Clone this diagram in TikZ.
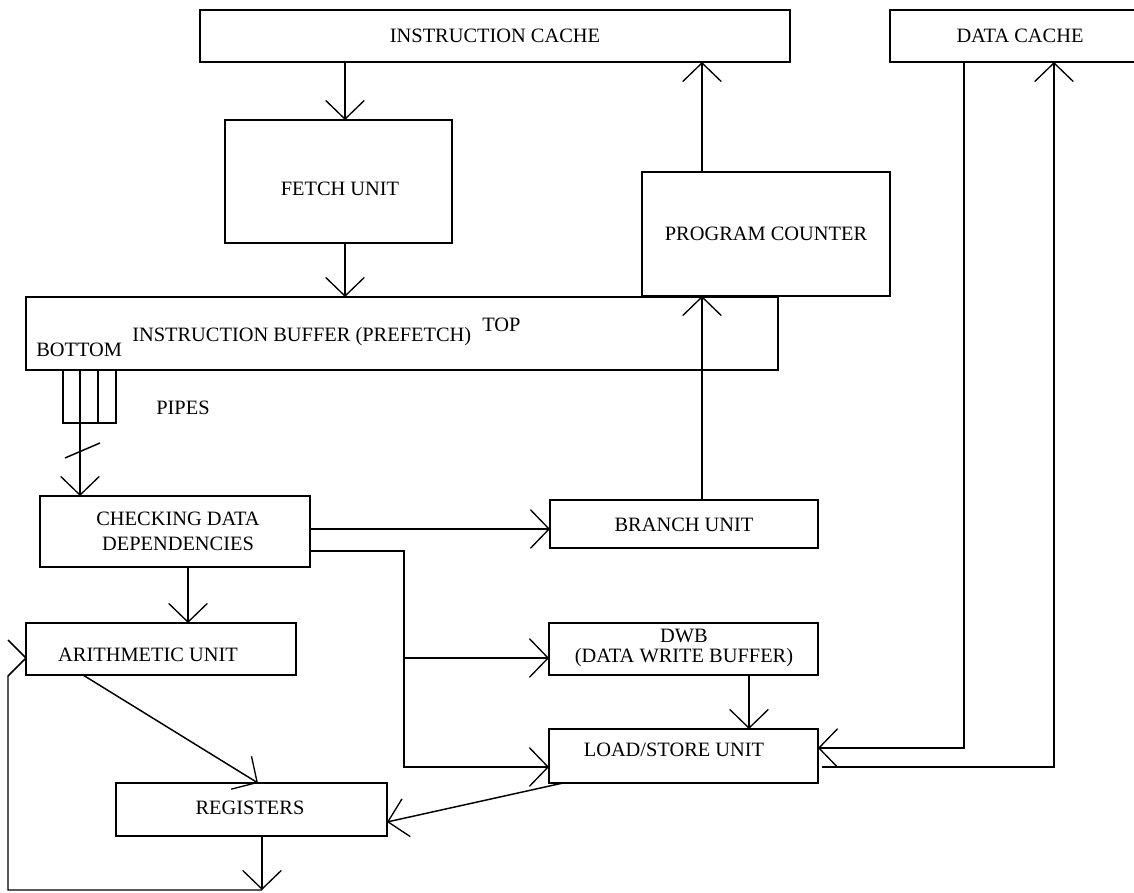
\documentclass[tikz,border=0pt]{standalone}
\usepackage{fontspec}
\setmainfont{Liberation Serif}
\usetikzlibrary{arrows.meta}
\begin{document}
\begin{tikzpicture}[x=0.75pt,y=-0.75pt,
  box/.style={draw, line width=1.1pt, inner sep=0pt, outer sep=0pt, anchor=north west},
  lbl/.style={font=\fontsize{15.3}{18.7}\selectfont, inner sep=0pt, align=center},
  conn/.style={line width=1.1pt},
  arr/.style={conn, -{Straight Barb[length=14pt,width=29pt,line width=1pt]}},
]
\useasboundingbox (0,0) rectangle (1134,892);
\fill[white] (0,0) rectangle (1134,892);

% boxes
\node[box, minimum width=442.5pt, minimum height=39pt] (ic) at (200,10) {};
\node[box, minimum width=202.5pt, minimum height=39pt] (dc) at (890,10) {};
\node[box, minimum width=170.25pt, minimum height=92.25pt] (fetch) at (225,120) {};
\node[box, minimum width=186pt, minimum height=93pt] (pc) at (642,172) {};
\node[box, minimum width=564pt, minimum height=54.75pt] (ib) at (26,297) {};
\node[box, minimum width=39.75pt, minimum height=39.75pt] (pipes) at (63,370) {};
\node[box, minimum width=202.5pt, minimum height=53.25pt] (cdd) at (40,496) {};
\node[box, minimum width=201pt, minimum height=36pt] (branch) at (550,500) {};
\node[box, minimum width=202.5pt, minimum height=39pt] (arith) at (26,623) {};
\node[box, minimum width=201.75pt, minimum height=39pt] (dwb) at (549,623) {};
\node[box, minimum width=201.75pt, minimum height=40.5pt] (lsu) at (549,729) {};
\node[box, minimum width=203.25pt, minimum height=39.75pt] (regs) at (116,783) {};

% pipe cells
\draw[conn] (80,370) -- (80,423);
\draw[line width=2.2pt] (98,370) -- (98,423);

% labels
\node[lbl] (tic) at (ic.center) {INSTRUCTION CACHE};
\node[lbl] (tdc) at (1020,36) {DATA CACHE};
\node[lbl] (tfetch) at (340,189) {FETCH UNIT};
\node[lbl] (tpc) at (pc.center) {PROGRAM COUNTER};
\node[lbl, anchor=west] (tib) at (132,337) {INSTRUCTION BUFFER (PREFETCH)};
\node[lbl, anchor=west] (ttop) at (482,325) {TOP};
\node[lbl, anchor=west] (tbot) at (36,350) {BOTTOM};
\node[lbl] (tpipes) at (183,408) {PIPES};
\node[lbl] (tcdd) at (178,531) {CHECKING DATA\\DEPENDENCIES};
\node[lbl] (tbranch) at (684,525) {BRANCH UNIT};
\node[lbl] (tarith) at (148,655) {ARITHMETIC UNIT};
\node[lbl, font=\fontsize{15.3}{15}\selectfont] (tdwb) at (684,648) {DWB\\(DATA WRITE BUFFER)};
\node[lbl] (tlsu) at (674,750) {LOAD/STORE UNIT};
\node[lbl] (tregs) at (250,808) {REGISTERS};

% helper coordinates
\coordinate (xA) at (345,0);
\coordinate (xB) at (702,0);
\coordinate (xP) at (80,0);
\coordinate (yBr) at (0,529);
\coordinate (yD) at (0,551);
\coordinate (xJ) at (404,0);
\coordinate (yL) at (0,767);
\coordinate (yW) at (0,658);
\coordinate (xAr) at (188,0);
\coordinate (xS) at (83,0);
\coordinate (xT) at (258,0);
\coordinate (xLs) at (563,0);
\coordinate (yRg) at (0,822);
\coordinate (xDw) at (749,0);
\coordinate (xDc) at (964,0);
\coordinate (yIn) at (0,748);
\coordinate (xOut) at (1054,0);
\coordinate (xR) at (262,0);
\coordinate (yBot) at (0,890);
\coordinate (xL) at (8,0);
\coordinate (yUp) at (0,676);
\coordinate (yBarb) at (0,640);

% connectors
\draw[arr] (xA |- ic.south) -- (xA |- fetch.north);
\draw[arr] (xA |- fetch.south) -- (xA |- ib.north);
\draw[arr] (xB |- pc.north) -- (xB |- ic.south);
\draw[arr] (xB |- branch.north) -- (xB |- pc.south);
\draw[arr] (xP |- pipes.south) -- (xP |- cdd.north);
\draw[conn] (65,458) -- (100,443);
\draw[arr] (cdd.east |- yBr) -- (branch.west |- yBr);
\draw[arr] (cdd.east |- yD) -| (xJ |- yL) -- (lsu.west |- yL);
\draw[arr] (xJ |- yW) -- (dwb.west |- yW);
\draw[arr] (xAr |- cdd.south) -- (xAr |- arith.north);
\draw[arr] (xS |- arith.south) -- (xT |- regs.north);
\draw[arr] (xLs |- lsu.south) -- (regs.east |- yRg);
\draw[arr] (xDw |- dwb.south) -- (xDw |- lsu.north);
\draw[arr] (xDc |- dc.south) |- (lsu.east |- yIn);
\draw[arr] ([xshift=3pt]lsu.east |- yL) -| (xOut |- dc.south);
\draw[arr] (xR |- regs.south) -- (xR |- yBot);
\draw[conn] (xR |- yBot) -- (xL |- yBot) -- (xL |- yUp) -- (arith.west |- yW);
\draw[conn] (xL |- yBarb) -- (arith.west |- yW);
\end{tikzpicture}
\end{document}
